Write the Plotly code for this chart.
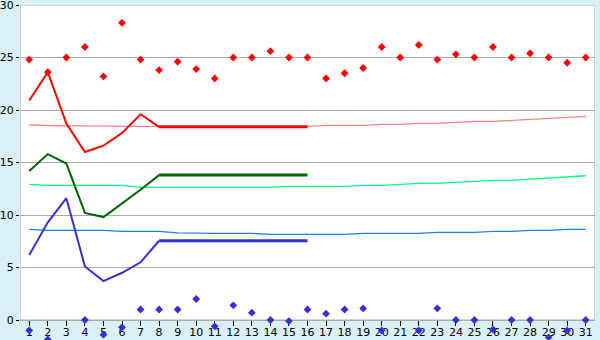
import plotly.graph_objects as go

days = list(range(1, 32))
tick_labels = [str(d) for d in days]

# Daily maximum (red points)
max_points = [24.8, 23.6, 25.0, 26.0, 23.2, 28.3, 24.8, 23.8, 24.6, 23.9,
              23.0, 25.0, 25.0, 25.6, 25.0, 25.0, 23.0, 23.5, 24.0, 26.0,
              25.0, 26.2, 24.8, 25.3, 25.0, 26.0, 25.0, 25.4, 25.0, 24.5, 25.0]
# Daily minimum (blue points)
min_points = [-1.0, -1.85, None, 0.0, -1.4, -0.7, 1.0, 1.0, 1.0, 2.0,
              -0.6, 1.4, 0.7, 0.0, -0.1, 1.0, 0.6, 1.0, 1.1, -1.0,
              None, -1.0, 1.1, 0.0, 0.0, -0.9, 0.0, 0.0, -1.65, -1.0, 0.0]

# Observed curves (days 1-16)
max_line = [20.9, 23.6, 18.7, 16.0, 16.6, 17.8, 19.6, 18.4,
            18.4, 18.4, 18.4, 18.4, 18.4, 18.4, 18.4, 18.4]
mean_line = [14.2, 15.8, 14.9, 10.2, 9.8, 11.1, 12.4, 13.8,
             13.8, 13.8, 13.8, 13.8, 13.8, 13.8, 13.8, 13.8]
min_line = [6.2, 9.3, 11.6, 5.1, 3.7, 4.5, 5.5, 7.55,
            7.55, 7.55, 7.55, 7.55, 7.55, 7.55, 7.55, 7.55]

# Normal curves (days 1-31)
max_normal = [18.57, 18.5, 18.48, 18.48, 18.46, 18.44, 18.4, 18.37, 18.37, 18.37,
              18.37, 18.38, 18.39, 18.4, 18.42, 18.44, 18.54, 18.54, 18.54, 18.64,
              18.64, 18.73, 18.73, 18.83, 18.92, 18.92, 19.0, 19.1, 19.2, 19.3, 19.4]
mean_normal = [12.92, 12.83, 12.83, 12.83, 12.83, 12.83, 12.64, 12.64, 12.64, 12.64,
               12.64, 12.64, 12.64, 12.64, 12.73, 12.73, 12.73, 12.73, 12.83, 12.83,
               12.92, 13.02, 13.02, 13.11, 13.21, 13.3, 13.3, 13.4, 13.5, 13.59, 13.74]
min_normal = [8.63, 8.54, 8.54, 8.54, 8.54, 8.44, 8.44, 8.44, 8.3, 8.25,
              8.25, 8.25, 8.25, 8.16, 8.16, 8.16, 8.16, 8.16, 8.25, 8.25,
              8.25, 8.25, 8.35, 8.35, 8.35, 8.44, 8.44, 8.54, 8.54, 8.63, 8.63]

RED, PINK = "#FF0000", "#FF8080"
DGREEN, LGREEN = "#006400", "#00FF7F"
BLUE, LBLUE = "#3333CC", "#1E7FE8"
BG = "#DAF0F7"
GRID = "#AAAAAA"

X_RANGE = [0.5, 31.5]
Y_MIN, Y_MAX = 0, 30
W, H = 600, 340
M_L, M_R, M_T, M_B = 20, 5, 5, 0
AXIS_GAP = 20  # pixels between value 0 and the bottom of the page
plot_h = H - M_T - M_B
px_per_unit = (plot_h - AXIS_GAP) / (Y_MAX - Y_MIN)
y_lo = Y_MIN - AXIS_GAP / px_per_unit

fig = go.Figure()

# normals (thin)
for vals, col in [(max_normal, PINK), (mean_normal, LGREEN), (min_normal, LBLUE)]:
    fig.add_trace(go.Scatter(x=days, y=vals, mode="lines",
                             line=dict(color=col, width=1.3), hoverinfo="skip"))

# observed lines: first part thinner, flat part thicker
obs_days = days[:16]
for vals, col in [(max_line, RED), (mean_line, DGREEN), (min_line, BLUE)]:
    fig.add_trace(go.Scatter(x=obs_days[:8], y=vals[:8], mode="lines",
                             line=dict(color=col, width=2)))
    fig.add_trace(go.Scatter(x=obs_days[7:], y=vals[7:], mode="lines",
                             line=dict(color=col, width=3)))

# points
fig.add_trace(go.Scatter(x=days, y=max_points, mode="markers",
                         marker=dict(symbol="diamond", size=6, color=RED),
                         cliponaxis=False))
fig.add_trace(go.Scatter(x=days, y=min_points, mode="markers",
                         marker=dict(symbol="diamond", size=6, color=BLUE),
                         cliponaxis=False))

# white plotting frame (0..30) drawn under gridlines
fig.add_shape(type="rect", xref="x", yref="y",
              x0=X_RANGE[0], x1=X_RANGE[1], y0=Y_MIN, y1=Y_MAX,
              fillcolor="#FFFFFF", line=dict(color=GRID, width=1), layer="below")

fig.update_layout(
    width=W, height=H,
    margin=dict(l=M_L, r=M_R, t=M_T, b=M_B, autoexpand=False),
    paper_bgcolor=BG,
    plot_bgcolor=BG,
    showlegend=False,
    font=dict(family="DejaVu Sans", size=11, color="#000000"),
    xaxis=dict(range=X_RANGE, tickmode="array", tickvals=days, ticktext=tick_labels,
               showgrid=False, zeroline=False, showline=False, automargin=False,
               anchor="free", position=AXIS_GAP / plot_h,
               ticks="outside", ticklen=5, tickcolor="#000000",
               ticklabelstandoff=-3,
               tickfont=dict(size=11), layer="below traces", fixedrange=True),
    yaxis=dict(range=[y_lo, Y_MAX], tickvals=[0, 5, 10, 15, 20, 25, 30],
               showgrid=True, gridcolor=GRID, gridwidth=1, zeroline=False,
               showline=False, ticks="outside", ticklen=3, tickcolor="#000000",
               ticklabeloverflow="allow", automargin=False,
               tickfont=dict(size=11), fixedrange=True),
)

fig.write_html("out.html")
